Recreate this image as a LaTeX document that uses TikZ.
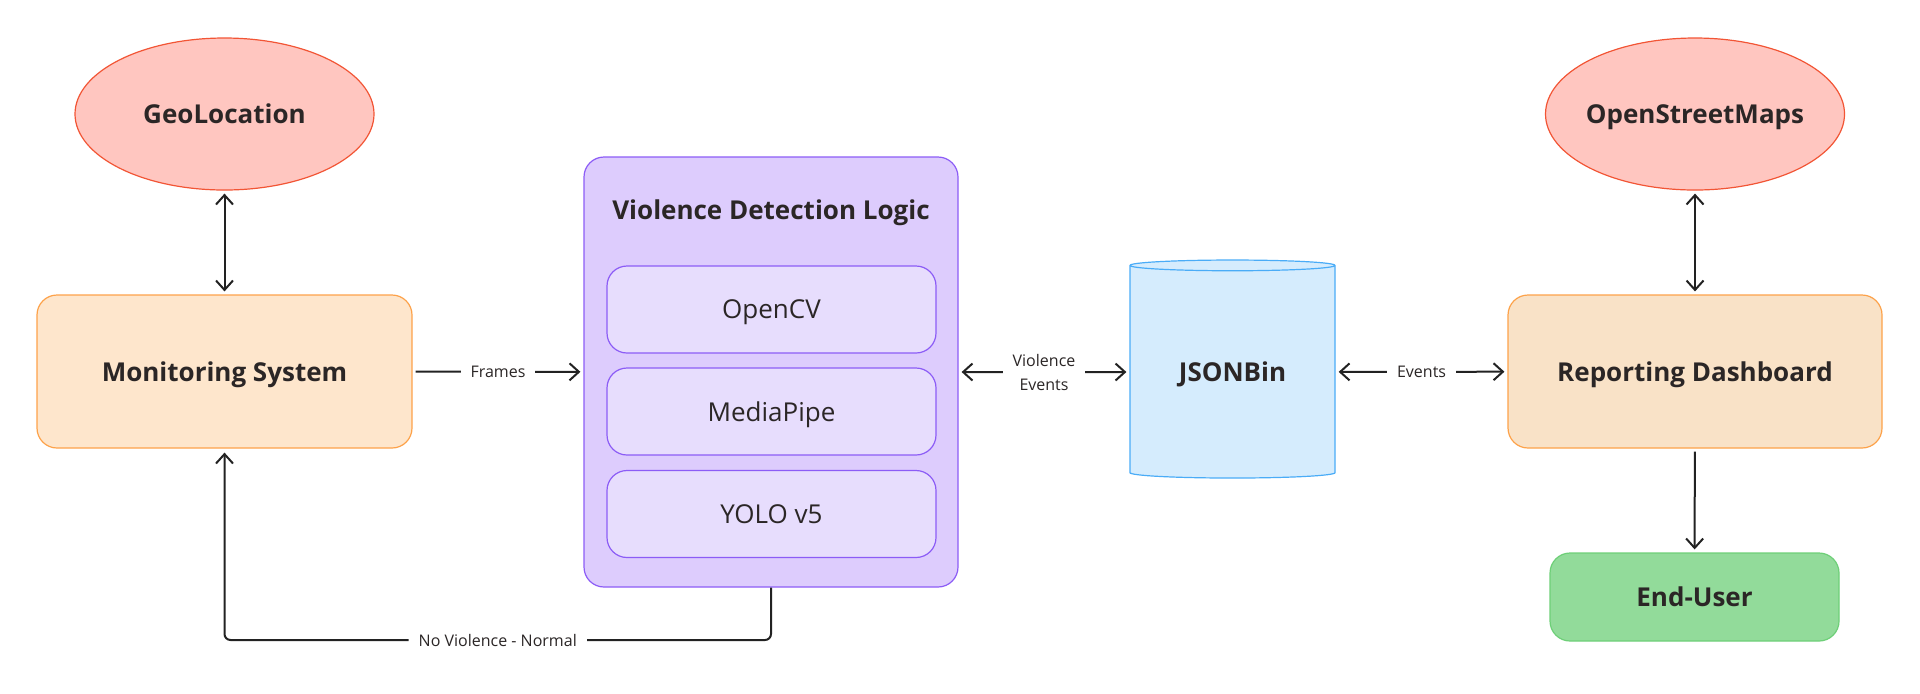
\documentclass[tikz,border=0pt]{standalone}
\usepackage{fontspec}
\setmainfont{Open Sans}
\usepackage{tikz}
\usetikzlibrary{arrows.meta,shapes.geometric}

\definecolor{inkcol}{HTML}{2B2626}
\definecolor{linecol}{HTML}{222222}
\definecolor{geofill}{HTML}{FFC6C0}
\definecolor{geodraw}{HTML}{F25535}
\definecolor{monfill}{HTML}{FEE6CC}
\definecolor{repfill}{HTML}{F9E2C7}
\definecolor{ordraw}{HTML}{FDA24A}
\definecolor{vdlfill}{HTML}{DDCCFD}
\definecolor{subfill}{HTML}{E7DDFD}
\definecolor{purdraw}{HTML}{8C5CF6}
\definecolor{dbfill}{HTML}{D5ECFD}
\definecolor{dbdraw}{HTML}{4AACF7}
\definecolor{userfill}{HTML}{92DB9A}
\definecolor{userdraw}{HTML}{6ECF78}

\begin{document}
\begin{tikzpicture}[x=0.5pt,y=-0.5pt,text=inkcol,
    titlefont/.style={font=\fontsize{13}{15}\selectfont\bfseries,text depth=0pt},
    box/.style={rectangle,rounded corners=10pt,line width=0.6pt,inner sep=0pt,titlefont},
    oval/.style={ellipse,draw=geodraw,fill=geofill,line width=0.6pt,inner sep=-12pt,
                 minimum width=149.5pt,minimum height=76pt,titlefont},
    lbl/.style={fill=white,inner sep=5pt,font=\fontsize{8}{12}\selectfont,align=center}]
\useasboundingbox (0,0) rectangle (1920,693);

% outer nodes
\node[oval] (geo) at (224.5,114) {GeoLocation};
\node[oval] (osm) at (1695,114) {OpenStreetMaps};

\node[box,draw=ordraw,fill=monfill,minimum width=187.5pt,minimum height=76.5pt]
    (mon) at (224.5,371.5) {Monitoring System};
\node[box,draw=ordraw,fill=repfill,minimum width=187pt,minimum height=76.5pt]
    (rep) at (1695,371.5) {Reporting Dashboard};
\node[box,draw=userdraw,fill=userfill,minimum width=144.5pt,minimum height=44pt]
    (user) at (1694.5,597) {End-User};

\node[cylinder,shape border rotate=90,aspect=0.1,draw=dbdraw,fill=dbfill,
      line width=0.6pt,minimum width=102.5pt,minimum height=109pt,inner sep=0pt,titlefont]
    (db) at (1232.5,372) {JSONBin};

% detection block
\node[box,draw=purdraw,fill=vdlfill,minimum width=187pt,minimum height=215pt]
    (vdl) at (771,372) {};
\node[titlefont] (vdltitle) at (771,210) {Violence Detection Logic};

\begin{scope}[every node/.style={rectangle,rounded corners=10pt,draw=purdraw,fill=subfill,
      line width=0.6pt,minimum width=164.5pt,minimum height=43.5pt,
      font=\fontsize{13}{15}\selectfont,text depth=0pt}]
    \node (cv) at (771.5,309.5) {OpenCV};
    \node (mp) at (771.5,411.5) {MediaPipe};
    \node (yolo) at (771.5,514) {YOLO v5};
\end{scope}

\coordinate (turn) at (771,640);

% connectors
\begin{scope}[>={Straight Barb[length=4.7pt,width=8.5pt]},
              every edge/.style={draw=linecol,line width=1pt,shorten <=1.5pt,shorten >=1.5pt}]
    \path (geo) edge[<->] (mon);
    \path (osm) edge[<->] (rep);
    \path (rep) edge[->] (user);
    \path (mon) edge[->] node[lbl] {Frames} (vdl);
    \path (vdl) edge[<->] node[lbl] {Violence\\Events} (db);
    \path (db) edge[<->] node[lbl] {Events} (rep);
    \draw[->,draw=linecol,line width=1pt,rounded corners=3pt,shorten >=2pt]
        (vdl.south) -- (turn) -| node[lbl,pos=0.25] {No Violence - Normal} (mon.south);
\end{scope}
\end{tikzpicture}
\end{document}
